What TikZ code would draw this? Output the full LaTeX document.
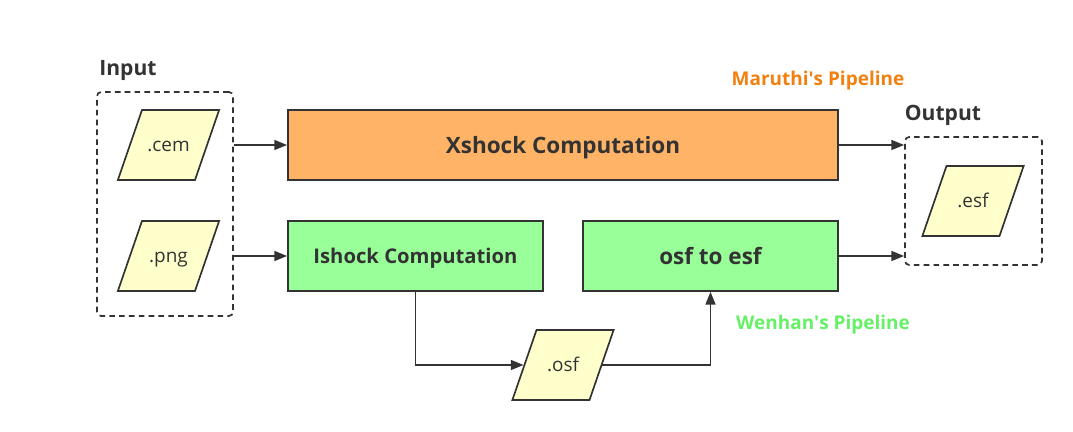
\documentclass[tikz,border=0pt]{standalone}
\usepackage{fontspec}
\setmainfont{Open Sans}
\usetikzlibrary{arrows.meta,shapes.geometric,calc}
\definecolor{ink}{HTML}{333333}
\definecolor{xorange}{HTML}{FFB366}
\definecolor{igreen}{HTML}{99FF99}
\definecolor{fileyel}{HTML}{FFFFCC}
\definecolor{maruthi}{HTML}{F28010}
\definecolor{wenhan}{HTML}{66F066}
\begin{document}
\begin{tikzpicture}[x=0.025cm,y=-0.025cm]
    \tikzset{line/.style={draw=ink,line width=1.2pt}}
    \tikzset{arrow/.style={draw=ink,line width=1.2pt,-{Triangle[length=9pt,width=7pt]}}}
    \tikzset{procbox/.style={line,rectangle,minimum height=1.75cm,text depth=0pt,text=ink,font=\bfseries}}
    \tikzset{filebox/.style={line,trapezium,trapezium left angle=71,trapezium right angle=109,
        inner sep=0pt,text width=1.325cm,align=center,text height=0.875cm+4.5pt,text depth=0.875cm-4.5pt,
        fill=fileyel,text=ink,font=\fontsize{13.5}{16}\selectfont}}
    \tikzset{groupbox/.style={draw=ink,line width=1.2pt,dash pattern=on 4pt off 3pt,rounded corners=3pt}}
    \tikzset{title/.style={text=ink,font=\fontsize{15}{17}\selectfont\bfseries}}

    \useasboundingbox (0,0) rectangle (1073,432);

    % input and output groups
    \node[groupbox,minimum width=3.4cm,minimum height=5.6cm] (inbox) at (165,204) {};
    \node[groupbox,minimum width=3.425cm,minimum height=3.2cm] (outbox) at (973.5,201) {};
    \node[title] (intitle) at (128,71) {Input};
    \node[title] (outtitle) at (943,115) {Output};

    \node[filebox] (cem) at (168.5,145) {.cem};
    \node[filebox] (png) at (168.5,256) {.png};
    \node[filebox] (esf) at (973,201) {.esf};
    \node[filebox] (osf) at (563,365) {.osf};

    % pipelines
    \node[procbox,fill=xorange,minimum width=13.75cm,font=\fontsize{16}{19}\selectfont\bfseries] (xshock) at (563,145) {Xshock Computation};
    \node[procbox,fill=igreen,minimum width=6.375cm,font=\fontsize{14.4}{17}\selectfont\bfseries] (ishock) at (415.5,256) {Ishock Computation};
    \node[procbox,fill=igreen,minimum width=6.375cm,font=\fontsize{16}{19}\selectfont\bfseries] (convert) at (710.5,256) {osf to esf};

    \node[text=maruthi,font=\fontsize{13.5}{16}\selectfont\bfseries] (mlabel) at (818,81) {Maruthi\textquotesingle s Pipeline};
    \node[text=wenhan,font=\fontsize{13.5}{16}\selectfont\bfseries] (wlabel) at (823,325) {Wenhan\textquotesingle s Pipeline};

    \path[arrow] (cem -| inbox.east) to (xshock.west);
    \path[arrow] (png -| inbox.east) to (ishock.west);
    \path[arrow] (xshock.east) to (xshock.east -| outbox.west);
    \path[arrow] (convert.east) to (convert.east -| outbox.west);
    \path[arrow] (ishock.south) |- (osf.west);
    \path[arrow] (osf.east) -| (convert.south);

\end{tikzpicture}
\end{document}
